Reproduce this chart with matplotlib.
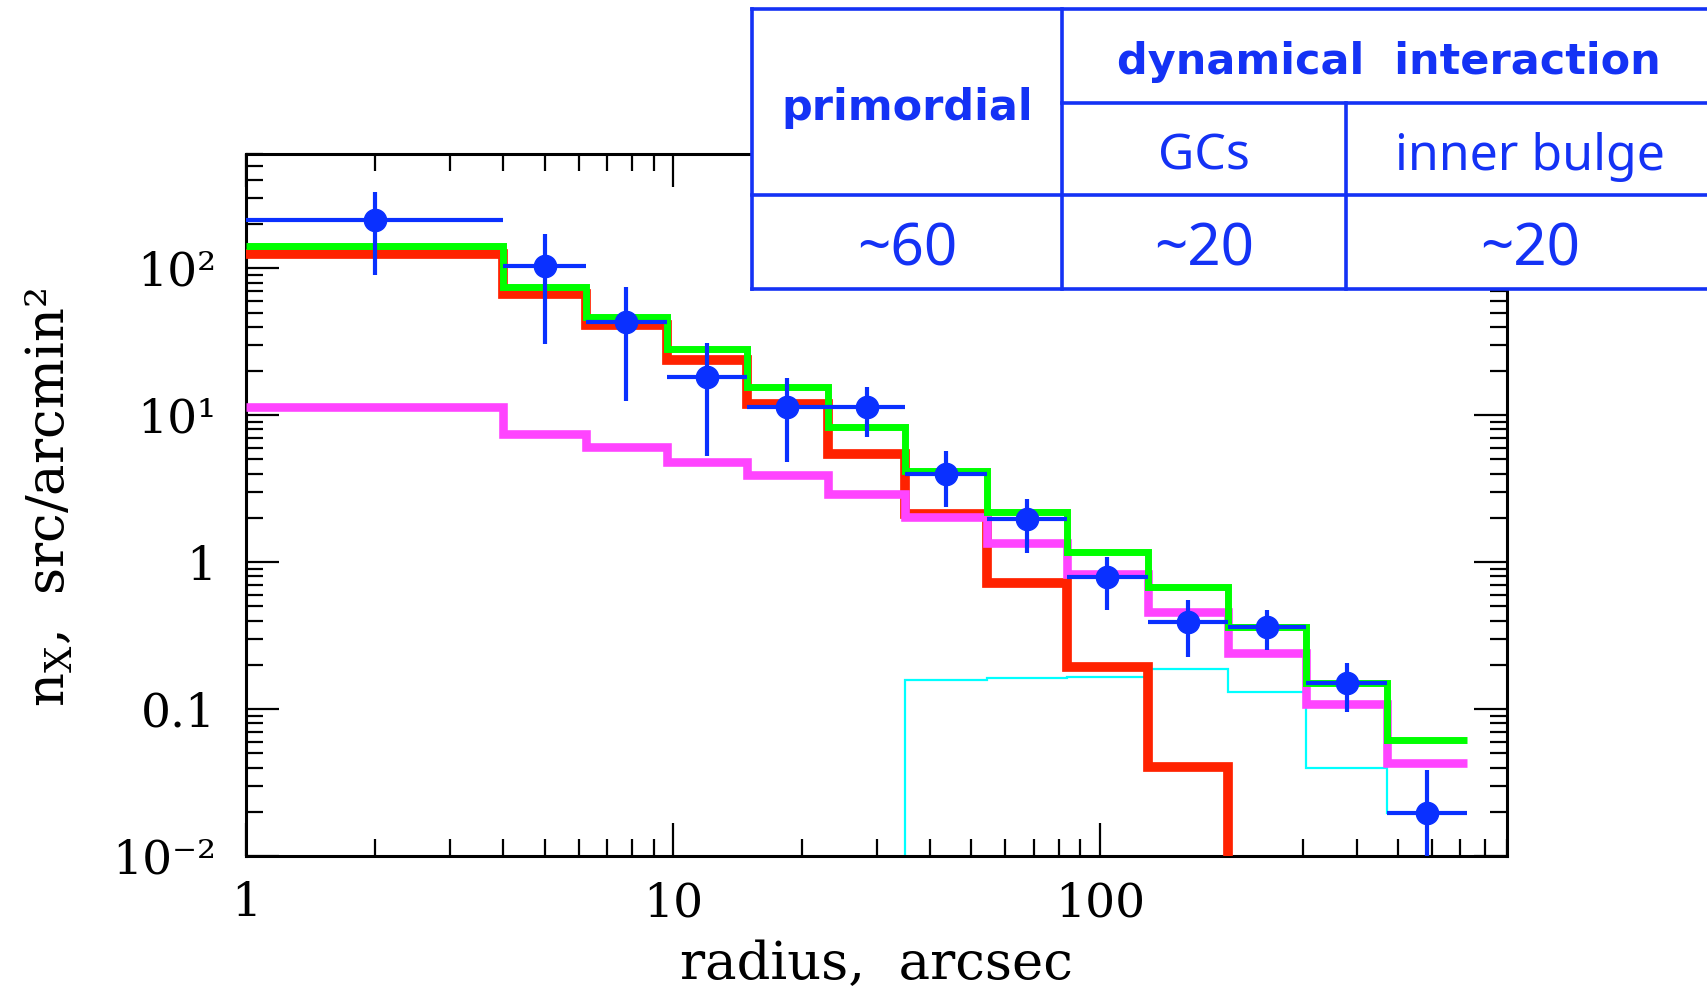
import numpy as np
import matplotlib
matplotlib.use("Agg")
import matplotlib.pyplot as plt
from matplotlib.patches import Rectangle

plt.rcParams['font.family'] = ['DejaVu Serif', 'DejaVu Sans']
plt.rcParams['mathtext.default'] = 'regular'

## bins in radius (arcsec)
edges = [1, 4, 6.25, 9.65, 14.9, 23, 35, 54.3, 83.6, 129.5, 200, 305, 472, 725]

## model curves, src/arcmin^2 (1e-4 = below the plot)
total = [143, 74.6, 46.7, 28.4, 15.6, 8.3, 4.2, 2.2, 1.17, 0.68, 0.363, 0.150, 0.0615]
bulge = [11.3, 7.5, 6.08, 4.81, 3.91, 2.93, 2.03, 1.34, 0.837, 0.46, 0.239, 0.109, 0.0428]
core = [126, 67.3, 41, 23.7, 12.0, 5.49, 2.14, 0.716, 0.194, 0.0406, 1e-4, 1e-4, 1e-4]
bkg = [1e-4, 1e-4, 1e-4, 1e-4, 1e-4, 1e-4, 0.157, 0.162, 0.165, 0.186, 0.131, 0.040, 0.0195]

## data points
r_pts = [2, 5.0, 7.77, 12.0, 18.5, 28.4, 43.6, 67.4, 104, 161, 247, 380, 585]
n_pts = [212, 103, 43.2, 18.2, 11.4, 11.4, 4.0, 1.98, 0.794, 0.393, 0.363, 0.151, 0.0195]
n_hi = [330, 172, 74.6, 30.8, 17.8, 15.6, 5.69, 2.71, 1.09, 0.551, 0.47, 0.205, 0.0385]
n_lo = [89.6, 30.4, 12.5, 5.26, 4.81, 7.1, 2.38, 1.15, 0.471, 0.227, 0.252, 0.096, 0.004]

## table
tab_head = ["primordial", "dynamical  interaction"]
tab_sub = ["GCs", "inner bulge"]
tab_vals = ["~60", "~20", "~20"]

blue = '#0a30ff'
tblue = '#1432f5'

fig = plt.figure(figsize=(17.08, 9.94), dpi=100)
ax = fig.add_axes([246.5/1708, 1-856/994, (1507-246.5)/1708, (856-154)/994])

ax.stairs(bkg, edges, baseline=None, color='#00ffff', lw=1.6, zorder=2)
ax.stairs(core, edges, baseline=None, color='#ff2200', lw=7.0, zorder=3)
ax.stairs(bulge, edges, baseline=None, color='#ff44ff', lw=6.2, zorder=4)
ax.stairs(total, edges, baseline=None, color='#00ff00', lw=5.0, zorder=5)

r = np.array(r_pts)
n = np.array(n_pts)
e = np.array(edges)
ax.errorbar(r, n, yerr=[n - np.array(n_lo), np.array(n_hi) - n],
            xerr=[r - e[:-1], e[1:] - r], fmt='o', color=blue, ms=16,
            elinewidth=3, capsize=0, zorder=6)

ax.set_xscale('log')
ax.set_yscale('log')
ax.set_xlim(1, 900)
ax.set_ylim(0.01, 600)

ax.set_xticks([1, 10, 100])
ax.set_xticklabels(['1', '10', '100'])
ax.set_yticks([0.01, 0.1, 1, 10, 100])
ax.set_yticklabels(['10⁻²', '0.1', '1', '10¹', '10²'])
ax.tick_params(which='both', direction='in', top=True, right=True, width=1.6)
ax.tick_params(which='major', length=24, labelsize=34)
ax.tick_params(which='minor', length=12)
ax.tick_params(axis='y', which='major', pad=22)
ax.tick_params(axis='x', which='major', pad=18)
for s in ax.spines.values():
    s.set_linewidth(2.2)

ax.set_xlabel("radius,  arcsec", fontsize=38, labelpad=9)
ax.set_ylabel("n$_X$,  src/arcmin²", fontsize=38)
ax.yaxis.set_label_coords(-0.135, 0.51)

## table overlay in pixel coords
ov = fig.add_axes([0, 0, 1, 1])
ov.set_xlim(0, 1708)
ov.set_ylim(994, 0)
ov.axis('off')
ov.add_patch(Rectangle((752, 9), 1000, 280, facecolor='white', edgecolor='none', zorder=1))
lw = 2.6
ov.plot([752, 1720], [9, 9], color=tblue, lw=lw)
ov.plot([752, 1720], [195, 195], color=tblue, lw=lw)
ov.plot([752, 1720], [289, 289], color=tblue, lw=lw)
ov.plot([1062, 1720], [103, 103], color=tblue, lw=lw)
ov.plot([752, 752], [9, 289], color=tblue, lw=lw)
ov.plot([1062, 1062], [9, 289], color=tblue, lw=lw)
ov.plot([1346, 1346], [103, 289], color=tblue, lw=lw)

tf = dict(color=tblue, ha='center', va='center')
ov.text(907, 108, tab_head[0], fontsize=31, fontweight='bold', family='DejaVu Sans', **tf)
ov.text(1389, 62, tab_head[1], fontsize=31, fontweight='bold', family='DejaVu Sans', **tf)
ov.text(1204, 157, tab_sub[0], fontsize=36, family='Noto Sans', **tf)
ov.text(1530, 157, tab_sub[1], fontsize=36, family='Noto Sans', **tf)
ov.text(907, 250, tab_vals[0], fontsize=42, family='Noto Sans', **tf)
ov.text(1204, 250, tab_vals[1], fontsize=42, family='Noto Sans', **tf)
ov.text(1530, 250, tab_vals[2], fontsize=42, family='Noto Sans', **tf)

plt.savefig("out.png", dpi=100)
